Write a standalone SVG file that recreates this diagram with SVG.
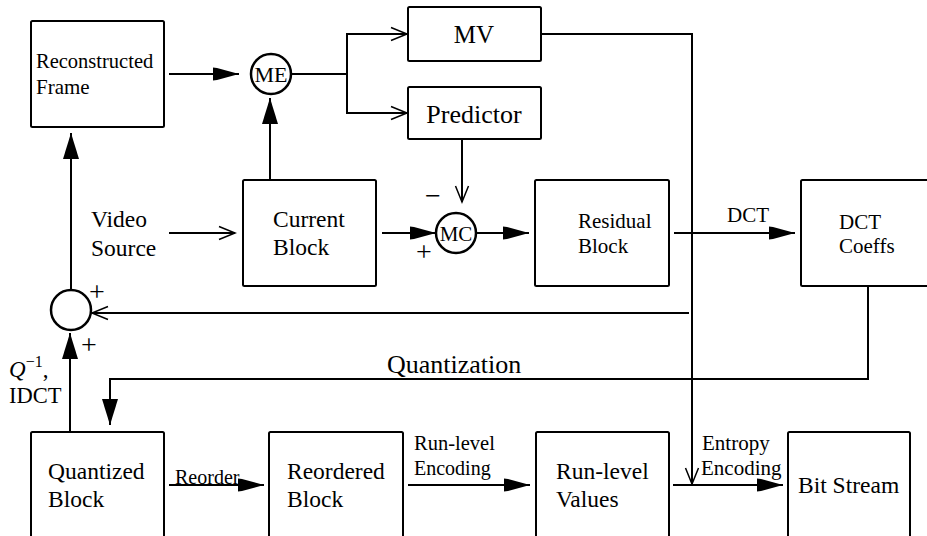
<svg xmlns="http://www.w3.org/2000/svg" width="927" height="536" viewBox="0 0 927 536" font-family="'Liberation Serif', 'Times New Roman', Times, serif">
<style>
.box{fill:none;stroke:#000;stroke-width:2}
.c{fill:#fff;stroke:#000;stroke-width:2.5}
.ln{fill:none;stroke:#000;stroke-width:2}
text{font-family:'Liberation Serif', 'Times New Roman', Times, serif;fill:#000}
.t23{font-size:23.5px}
.t21{font-size:21px}
.t25{font-size:25px}
.t20{font-size:20px}
.mid{text-anchor:middle}
.sign{font-size:28px;text-anchor:middle}
</style>
<defs>
<marker id="hat" viewBox="-30 -10 32 20" markerWidth="32" markerHeight="20" refX="0" refY="0" orient="auto" markerUnits="userSpaceOnUse">
<path d="M-26,-6.5 L-22,-6 L0,0 L-22,6 L-26,6.5 Z" fill="#000"/>
</marker>
<marker id="tri" viewBox="-30 -10 32 20" markerWidth="32" markerHeight="20" refX="0" refY="0" orient="auto" markerUnits="userSpaceOnUse">
<path d="M-26,-8 L0,0 L-26,8 Z" fill="#000"/>
</marker>
<marker id="open" viewBox="-20 -10 22 20" markerWidth="22" markerHeight="20" refX="0" refY="0" orient="auto" markerUnits="userSpaceOnUse">
<path d="M-16,-6.5 L0,0 L-16,6.5" fill="none" stroke="#000" stroke-width="1.5"/>
</marker>
</defs>

<g id="connectors">
<line class="ln" x1="169" y1="74" x2="239" y2="74" marker-end="url(#hat)"/>
<polyline class="ln" points="291,74 347,74"/>
<polyline class="ln" points="407,34 347,34 347,113 407,113"/>
<line class="ln" x1="347" y1="34" x2="407" y2="34" marker-end="url(#open)"/>
<line class="ln" x1="347" y1="113" x2="407" y2="113" marker-end="url(#open)"/>
<polyline class="ln" points="541,34 692,34 692,484" marker-end="url(#open)"/>
<line class="ln" x1="462" y1="139" x2="462" y2="202" marker-end="url(#open)"/>
<line class="ln" x1="270" y1="180" x2="270" y2="98" marker-end="url(#tri)"/>
<line class="ln" x1="169" y1="233" x2="235" y2="233" marker-end="url(#open)"/>
<line class="ln" x1="382" y1="233" x2="436" y2="233" marker-end="url(#hat)"/>
<line class="ln" x1="476" y1="233" x2="529" y2="233" marker-end="url(#hat)"/>
<line class="ln" x1="674" y1="233" x2="795" y2="233" marker-end="url(#hat)"/>
<line class="ln" x1="689" y1="313" x2="92" y2="313" marker-end="url(#open)"/>
<line class="ln" x1="71" y1="290" x2="71" y2="133" marker-end="url(#tri)"/>
<line class="ln" x1="70" y1="432" x2="70" y2="333" marker-end="url(#tri)"/>
<polyline class="ln" points="868,286 868,379 110,379 110,425" marker-end="url(#tri)"/>
<line class="ln" x1="169" y1="485" x2="264" y2="485" marker-end="url(#hat)"/>
<line class="ln" x1="408" y1="485" x2="530" y2="485" marker-end="url(#hat)"/>
<line class="ln" x1="673" y1="485" x2="783" y2="485" marker-end="url(#hat)"/>
</g>

<g id="recon"><rect class="box" x="31" y="21" width="133" height="106" rx="1.5"/>
<text x="36" y="68" font-size="20.5">Reconstructed</text><text class="t21" x="36" y="94">Frame</text></g>

<g id="me"><circle class="c" cx="271" cy="74" r="20"/><text class="mid" x="271" y="82" font-size="22">ME</text></g>

<g id="mv"><rect class="box" x="408" y="7" width="133" height="54" rx="1.5"/><text class="t25 mid" x="474" y="43">MV</text></g>

<g id="predictor"><rect class="box" x="408" y="87" width="133" height="52" rx="1.5"/><text class="mid" x="474" y="123" font-size="26">Predictor</text></g>

<g id="video"><text class="t23" x="91" y="227">Video</text><text class="t23" x="91" y="256">Source</text></g>

<g id="current"><rect class="box" x="243" y="180" width="133" height="106" rx="1.5"/>
<text class="t23" x="273" y="227">Current</text><text class="t23" x="273" y="255">Block</text></g>

<g id="mc"><circle class="c" cx="456" cy="233" r="20"/><text class="mid" x="456" y="240.5" font-size="21">MC</text>
<text class="sign" x="433" y="205">−</text><text class="sign" x="424" y="261">+</text></g>

<g id="residual"><rect class="box" x="535" y="180" width="134" height="106" rx="1.5"/>
<text class="t21" x="578" y="228">Residual</text><text class="t21" x="578" y="253">Block</text></g>

<g id="dctlabel"><text class="t21" x="727" y="222">DCT</text></g>

<g id="dctcoeffs"><rect class="box" x="801" y="180" width="140" height="106" rx="1.5"/>
<text class="t21" x="839" y="229">DCT</text><text class="t21" x="839" y="253">Coeffs</text></g>

<g id="sum"><circle class="c" cx="71" cy="310" r="20"/>
<text class="sign" x="97" y="301">+</text><text class="sign" x="89" y="354">+</text></g>

<g id="qlabel"><text x="9" y="377" font-size="23" font-style="italic">Q<tspan font-style="normal" font-size="16" dy="-10">−1</tspan><tspan font-style="normal" dy="10">,</tspan></text>
<text x="9" y="403" font-size="22.5">IDCT</text></g>

<g id="quantization"><text x="387" y="373" font-size="26">Quantization</text></g>

<g id="quantized"><rect class="box" x="31" y="432" width="133" height="120" rx="1.5"/>
<text class="t23" x="48" y="479">Quantized</text><text class="t23" x="48" y="507">Block</text></g>

<g id="reorderlabel"><text class="t20" x="175" y="484">Reorder</text></g>

<g id="reordered"><rect class="box" x="269" y="432" width="134" height="120" rx="1.5"/>
<text class="t23" x="287" y="479">Reordered</text><text class="t23" x="287" y="507">Block</text></g>

<g id="rlenc"><text x="414" y="450" font-size="20.5">Run-level</text><text class="t20" x="414" y="475">Encoding</text></g>

<g id="rlvalues"><rect class="box" x="536" y="432" width="133" height="120" rx="1.5"/>
<text class="t23" x="556" y="479">Run-level</text><text class="t23" x="556" y="507">Values</text></g>

<g id="entropy"><text class="t21" x="702" y="450">Entropy</text><text class="t21" x="701" y="475">Encoding</text></g>

<g id="bitstream"><rect class="box" x="788" y="432" width="122" height="120" rx="1.5"/>
<text class="t23" x="798" y="493">Bit Stream</text></g>
</svg>
